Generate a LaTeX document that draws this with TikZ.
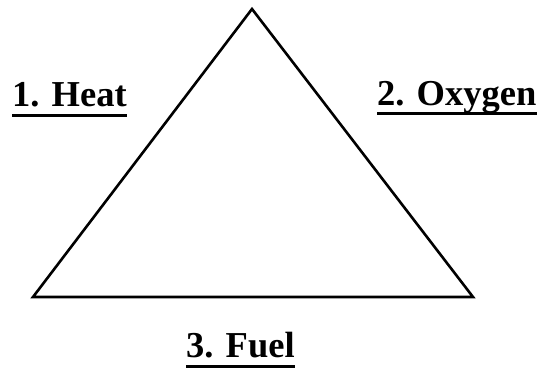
\documentclass[tikz,border=0pt]{standalone}
\usepackage{fontspec}
\setmainfont{Liberation Serif}
\begin{document}
\begin{tikzpicture}[x=1pt,y=1pt,
  lbl/.style={inner sep=0pt, anchor=base west, font=\fontsize{36.5}{40}\selectfont\bfseries},
  uline/.style={line width=3pt},
  edge/.style={line width=2.6pt, line join=miter}]
\useasboundingbox (0,0) rectangle (541,371);
\coordinate (top) at (252,362);
\coordinate (bl) at (33,74);
\coordinate (br) at (473,74);
\draw[edge] (top) -- (bl) -- (br) -- cycle;
\node[lbl] (heat) at (12,264) {1. Heat};
\node[lbl] (oxy) at (377,265) {2. Oxygen};
\node[lbl] (fuel) at (186,13) {3. Fuel};
\draw[uline] ([yshift=-9pt]heat.base west) -- ([yshift=-9pt]heat.base east);
\draw[uline] ([yshift=-8pt]oxy.base west) -- ([yshift=-8pt]oxy.base east);
\draw[uline] ([yshift=-9pt]fuel.base west) -- ([yshift=-9pt]fuel.base east);
\end{tikzpicture}
\end{document}
